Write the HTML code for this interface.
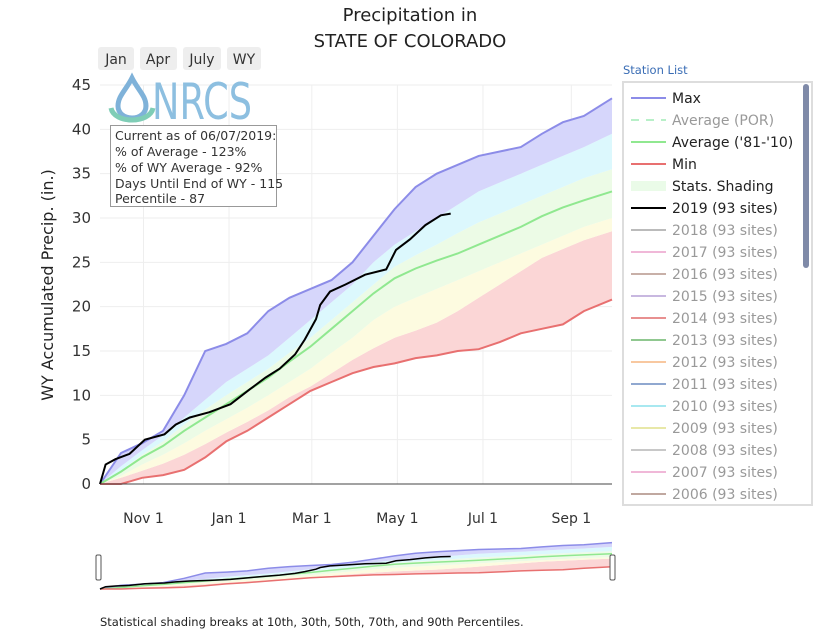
<!DOCTYPE html>
<html><head><meta charset="utf-8"><style>
body{margin:0;background:#fff;font-family:"Liberation Sans","DejaVu Sans",sans-serif;}
svg text{font-family:"DejaVu Sans","Liberation Sans",sans-serif;}
</style></head><body>
<svg id="c" width="835" height="637" viewBox="0 0 835 637" xmlns="http://www.w3.org/2000/svg">
<text x="410" y="21" font-size="18" text-anchor="middle" fill="#222">Precipitation in</text>
<text x="410" y="47" font-size="18" text-anchor="middle" fill="#222">STATE OF COLORADO</text>
<g>
<rect x="98" y="47" width="36" height="23" rx="3" fill="#eee"/><text x="116" y="64" font-size="14" text-anchor="middle" fill="#333">Jan</text>
<rect x="140" y="47" width="37" height="23" rx="3" fill="#eee"/><text x="158" y="64" font-size="14" text-anchor="middle" fill="#333">Apr</text>
<rect x="183" y="47" width="38" height="23" rx="3" fill="#eee"/><text x="202" y="64" font-size="14" text-anchor="middle" fill="#333">July</text>
<rect x="227" y="47" width="34" height="23" rx="3" fill="#eee"/><text x="244" y="64" font-size="14" text-anchor="middle" fill="#333">WY</text>
</g>
<g id="grid"></g>
<g id="bands"></g>
<g id="lines"></g>
<g id="axes"></g>
<text transform="translate(53,285) rotate(-90)" font-size="16" text-anchor="middle" fill="#222">WY Accumulated Precip. (in.)</text>
<g>
<path d="M132 78 C126 90 118 96 118 106 C118 113 124 118 132 118 C140 118 146 113 146 106 C146 96 138 90 132 78 Z" fill="none" stroke="#7fb2d9" stroke-width="5"/>
<path d="M111 108 C114 124 150 124 153 108" fill="none" stroke="#7fcdb6" stroke-width="5"/>
<text x="152" y="119" font-size="50" fill="#8dbfe0" textLength="100" lengthAdjust="spacingAndGlyphs" font-family="Liberation Sans Narrow, Liberation Sans, sans-serif">NRCS</text>
</g>
<g>
<rect x="110.5" y="125.5" width="166" height="81" fill="#fff" stroke="#999"/>
<text font-size="12.5" fill="#333">
<tspan x="115" y="140">Current as of 06/07/2019:</tspan>
<tspan x="115" y="156">% of Average - 123%</tspan>
<tspan x="115" y="172">% of WY Average - 92%</tspan>
<tspan x="115" y="188">Days Until End of WY - 115</tspan>
<tspan x="115" y="203">Percentile - 87</tspan></text>
</g>
<text x="623" y="74" font-size="11.5" fill="#3a6db5">Station List</text>
<g>
<rect x="623" y="82" width="189" height="423" fill="#fff" stroke="#ddd" stroke-width="2"/>
<rect x="803" y="84" width="6" height="184" rx="3" fill="#7f8aa8"/>
<g id="leg"></g>
</g>
<g id="slider"></g>
<text x="100" y="626" font-size="11.5" fill="#222">Statistical shading breaks at 10th, 30th, 50th, 70th, and 90th Percentiles.</text>
</svg>
<script>
const days=[0,15,30,45,60,75,90,105,120,135,150,165,180,195,210,225,240,255,270,285,300,315,330,345,365];
const maxV=[0,3.5,4.6,6,10,15,15.8,17,19.5,21,22,23,25,28,31,33.5,35,36,37,37.5,38,39.5,40.8,41.5,43.5];
const p90=[0,2,3.8,5.5,7.5,9.5,11.5,13,14.5,16.5,18.5,20.5,22.5,25,27,28.5,30,31.5,33,34,35,36,37,38,39.5];
const p70=[0,1.5,3.3,4.8,6.7,8.4,10,11.5,13,14.8,16.5,18.5,20.5,22.5,24.5,25.8,27,28.3,29.5,30.5,31.5,32.5,33.5,34.5,35.5];
const avgV=[0,1.4,3,4.3,6,7.5,9,10.5,12,13.8,15.5,17.5,19.5,21.5,23.2,24.3,25.2,26,27,28,29,30.2,31.2,32,33];
const p50=[0,1.2,2.8,4,5.6,7,8.5,10,11.5,13.2,15,17,19,21,22.8,23.8,24.8,25.6,26.5,27.5,28.5,29.6,30.6,31.5,32.5];
const p30=[0,0.9,2.2,3.3,4.6,6,7.3,8.6,10,11.5,13,14.8,16.5,18.5,20,21,22,23,24,25,26,27,28,29,30];
const p10=[0,0.7,1.5,2.3,3.3,4.5,5.8,7,8.3,9.8,11,12.5,14,15.3,16.5,17.3,18.2,19.5,21,22.5,24,25.5,26.5,27.5,28.5];
const minV=[0,0,0.7,1,1.6,3,4.8,6,7.5,9,10.5,11.5,12.5,13.2,13.6,14.2,14.5,15,15.2,16,17,17.5,18,19.5,20.8];
const days19=[0,4,11,21,32,46,54,64,78,93,107,118,128,139,146,154,157,164,175,189,204,211,221,232,243,250];
const wy2019=[0,2.2,2.8,3.4,5,5.6,6.7,7.5,8.1,9,10.7,12,13,14.6,16.3,18.6,20.2,21.7,22.5,23.6,24.2,26.4,27.6,29.2,30.3,30.5];
const yTicks=[0,5,10,15,20,25,30,35,40,45];
const xTickLabels=["Nov  1","Jan  1","Mar  1","May  1","Jul  1","Sep  1"];
const xTickDays=[31,92,151,212,273,336];
const legendLabels=["Max","Average (POR)","Average ('81-'10)","Min","Stats. Shading","2019 (93 sites)","2018 (93 sites)","2017 (93 sites)","2016 (93 sites)","2015 (93 sites)","2014 (93 sites)","2013 (93 sites)","2012 (93 sites)","2011 (93 sites)","2010 (93 sites)","2009 (93 sites)","2008 (93 sites)","2007 (93 sites)","2006 (93 sites)"];
const legendColors=["#8c8ce8","#b8f0c8","#90e890","#e87070","#eafbe8","#000","#bbb","#f0b8d8","#c8b0a8","#c8b8e0","#e89090","#90c890","#f8c8a0","#90a8d0","#a8e8f0","#e8e8a8","#c8c8c8","#f0b8d8","#c0a8a0"];
const NS="http://www.w3.org/2000/svg";
const X0=100,X1=612,Y0=484,Y1=85;
const xs=d=>X0+(X1-X0)*d/365, ys=v=>Y0-(Y0-Y1)*v/45;
const sy=v=>589-48*v/45;
function mk(t,a,p){const e=document.createElementNS(NS,t);for(const k in a)e.setAttribute(k,a[k]);p.appendChild(e);return e;}
function pts(dd,vv,fx,fy){return dd.map((d,i)=>fx(d).toFixed(1)+","+fy(vv[i]).toFixed(1));}
const grid=document.getElementById('grid'),axes=document.getElementById('axes');
yTicks.forEach(v=>{
 if(v>0){const l=mk('line',{x1:X0,x2:X1,y1:ys(v),y2:ys(v),stroke:'#eee'},grid);}
 const t=mk('text',{x:91,y:ys(v)+5,'font-size':15,'text-anchor':'end',fill:'#333'},axes);t.textContent=v;
 
});
xTickDays.forEach((d,i)=>{
 const l=mk('line',{x1:xs(d),x2:xs(d),y1:Y1,y2:Y0,stroke:'#eee'},grid);
 
 const t=mk('text',{x:xs(d),y:523,'font-size':14,'text-anchor':'middle',fill:'#333','xml:space':'preserve'},axes);t.textContent=xTickLabels[i];
 
});
const zl=mk('line',{x1:X0,x2:X1,y1:Y0,y2:Y0,stroke:'#444','stroke-width':1},axes);

function drawAll(g,fy,lw,withNames){
 const bandDefs=[[minV,p10,'#fbd6d6'],[p10,p30,'#fdfbe0'],[p30,p70,'#ecfbe6'],[p70,p90,'#dcf8fd'],[p90,maxV,'#d6d6fb']];
 bandDefs.forEach(b=>{
  const p=pts(days,b[1],xs,fy).concat(pts(days,b[0],xs,fy).reverse());
  const e=mk('polygon',{points:p.join(' '),fill:b[2]},g);
  
 });
 [[maxV,'#8c8ce8','max-line'],[avgV,'#90e890','average-line'],[minV,'#e87070','min-line']].forEach(s=>{
  const e=mk('polyline',{points:pts(days,s[0],xs,fy).join(' '),fill:'none',stroke:s[1],'stroke-width':lw},g);
  
 });
 const e=mk('polyline',{points:pts(days19,wy2019,xs,fy).join(' '),fill:'none',stroke:'#000','stroke-width':lw},g);
 
}
drawAll(document.getElementById('bands'),ys,2);
const sl=document.getElementById('slider');
drawAll(sl,sy,1.5);
[96,610].forEach(x=>{const h=mk('rect',{x:x,y:555,width:5,height:25,rx:1.5,fill:'#fff',stroke:'#555'},sl);
 });
const leg=document.getElementById('leg');
legendLabels.forEach((lab,i)=>{
 const y=98+i*22;
 const g=mk('g',{},leg);
 if(i==4) mk('rect',{x:631,y:y-5,width:35,height:10,fill:legendColors[i]},g);
 else mk('line',{x1:631,x2:666,y1:y,y2:y,stroke:legendColors[i],'stroke-width':2,'stroke-dasharray':i==1?'8,7':'none'},g);
 const t=mk('text',{x:672,y:y+5,'font-size':14,fill:(i==1||i>5)?'#999':'#222'},g);t.textContent=lab;
});
</script>
</body></html>
